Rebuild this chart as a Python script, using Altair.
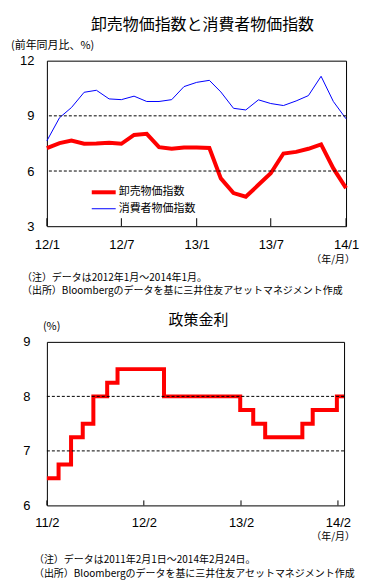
import altair as alt
import pandas as pd

# ---------------- data: top chart (monthly, y/y %) ----------------
months = ["2012-01-01", "2012-02-01", "2012-03-01", "2012-04-01", "2012-05-01",
          "2012-06-01", "2012-07-01", "2012-08-01", "2012-09-01", "2012-10-01",
          "2012-11-01", "2012-12-01", "2013-01-01", "2013-02-01", "2013-03-01",
          "2013-04-01", "2013-05-01", "2013-06-01", "2013-07-01", "2013-08-01",
          "2013-09-01", "2013-10-01", "2013-11-01", "2013-12-01", "2014-01-01"]
wpi = [7.25, 7.52, 7.66, 7.48, 7.50, 7.54, 7.48, 7.96, 8.02, 7.30, 7.21, 7.28, 7.28,
       7.25, 5.60, 4.80, 4.60, 5.25, 5.88, 6.95, 7.04, 7.21, 7.45, 6.14, 5.07]
cpi = [7.64, 8.90, 9.45, 10.28, 10.39, 9.92, 9.88, 10.07, 9.78, 9.78, 9.88, 10.59, 10.82,
       10.93, 10.30, 9.41, 9.32, 9.87, 9.67, 9.56, 9.81, 10.10, 11.15, 9.78, 8.84]
series_names = ["卸売物価指数", "消費者物価指数"]
series_colors = ["#FF0000", "#0000FF"]
top_xticks = ["2012-01-01", "2012-07-01", "2013-01-01", "2013-07-01", "2014-01-01"]
top_yticks = [3, 6, 9, 12]
top_grid = [6, 9]

# ---------------- data: bottom chart (policy rate) ----------------
rate_dates = ["2011-02-01", "2011-03-17", "2011-05-03", "2011-06-16", "2011-07-26",
              "2011-09-16", "2011-10-25", "2012-04-17", "2013-01-29", "2013-03-19",
              "2013-05-03", "2013-09-20", "2013-10-29", "2014-01-28", "2014-02-24"]
rates = [6.50, 6.75, 7.25, 7.50, 8.00, 8.25, 8.50, 8.00, 7.75, 7.50, 7.25, 7.50, 7.75, 8.00, 8.00]
bot_xticks = ["2011-02-01", "2012-02-01", "2013-02-01", "2014-02-01"]
bot_yticks = [6, 7, 8, 9]
bot_grid = [7, 8]

FONT_JP = "Noto Sans CJK JP"
FONT_NUM = "Liberation Sans"

W1, H1 = 300, 166
W2, H2 = 298, 164


def dt(s):
    y, m, d = (int(p) for p in s.split("-"))
    return alt.DateTime(year=y, month=m, date=d, utc=True)


def txt(text, x, y, size, align="left", baseline="middle", line_height=None):
    kw = {}
    if line_height is not None:
        kw = dict(lineBreak="\n", lineHeight=line_height)
    return alt.Chart(pd.DataFrame({"t": [text]})).mark_text(
        align=align, baseline=baseline, font=FONT_JP, fontSize=size, color="black", **kw
    ).encode(text="t:N", x=alt.value(x), y=alt.value(y))


def x_axis(ticks, pad):
    return alt.Axis(values=[dt(s) for s in ticks],
                    labelExpr="utcFormat(datum.value, '%y/%-m')",
                    title=None, ticks=False, domain=False, grid=False, labelFlush=False,
                    labelOverlap=False, labelFont=FONT_NUM, labelFontSize=13,
                    labelColor="black", labelPadding=pad)


def y_axis(ticks, pad):
    return alt.Axis(values=ticks, title=None, ticks=False, domain=False, grid=False,
                    labelFont=FONT_NUM, labelFontSize=13, labelColor="black",
                    labelPadding=pad)


# ---------------- top chart ----------------
df_top = pd.DataFrame({
    "date": months * 2,
    "value": wpi + cpi,
    "series": [series_names[0]] * len(wpi) + [series_names[1]] * len(cpi),
})
xs_top = alt.Scale(type="utc", domain=[dt(months[0]), dt(months[-1])])
ys_top = alt.Scale(domain=[3, 12], nice=False, zero=False)
xa_top = x_axis(top_xticks, 12)
ya_top = y_axis(top_yticks, 13)

leg = dict(title=None, orient="none", legendX=49, legendY=124,
           symbolType="M-2,0H2", symbolSize=144,
           labelFont=FONT_JP, labelFontSize=11, labelColor="black",
           labelOffset=7, rowPadding=2, padding=0)

top_lines = alt.Chart(df_top).mark_line().encode(
    x=alt.X("date:T", scale=xs_top, axis=xa_top),
    y=alt.Y("value:Q", scale=ys_top, axis=ya_top),
    color=alt.Color("series:N", scale=alt.Scale(domain=series_names, range=series_colors),
                    legend=alt.Legend(**leg)),
    strokeWidth=alt.StrokeWidth("series:N", scale=alt.Scale(domain=series_names, range=[4, 1]),
                                legend=alt.Legend(**leg)),
)

top_grid_layer = alt.Chart(pd.DataFrame({"value": top_grid})).mark_rule(
    color="black", strokeWidth=1, strokeDash=[3, 2]
).encode(y=alt.Y("value:Q", scale=ys_top, axis=ya_top))

top_tick_layer = alt.Chart(pd.DataFrame({"date": top_xticks})).mark_rule(
    color="black", strokeWidth=1
).encode(x=alt.X("date:T", scale=xs_top, axis=xa_top), y=alt.value(H1 - 8), y2=alt.value(H1))

top = alt.layer(
    top_lines, top_grid_layer, top_tick_layer,
    txt("卸売物価指数と消費者物価指数", 156, -36, 16, align="center"),
    txt("(前年同月比、%)", -36, -15, 11),
    txt("（年/月）", 309, 200, 10, align="right"),
    txt("（注）データは2012年1月～2014年1月。\n（出所）Bloombergのデータを基に三井住友アセットマネジメント作成",
        -25, 213, 10, baseline="top", line_height=13.5),
).properties(width=W1, height=H1)

# ---------------- bottom chart ----------------
df_bot = pd.DataFrame({"date": rate_dates, "rate": rates})
xs_bot = alt.Scale(type="utc", domain=[dt(rate_dates[0]), dt(rate_dates[-1])])
ys_bot = alt.Scale(domain=[6, 9], nice=False, zero=False)
xa_bot = x_axis(bot_xticks, 11)
ya_bot = y_axis(bot_yticks, 17)

bot_line = alt.Chart(df_bot).mark_line(
    interpolate="step-after", color="#FF0000", strokeWidth=4
).encode(
    x=alt.X("date:T", scale=xs_bot, axis=xa_bot),
    y=alt.Y("rate:Q", scale=ys_bot, axis=ya_bot),
)

bot_grid_layer = alt.Chart(pd.DataFrame({"rate": bot_grid})).mark_rule(
    color="black", strokeWidth=1, strokeDash=[3, 2]
).encode(y=alt.Y("rate:Q", scale=ys_bot, axis=ya_bot))

bot_tick_layer = alt.Chart(pd.DataFrame({"date": bot_xticks})).mark_rule(
    color="black", strokeWidth=1
).encode(x=alt.X("date:T", scale=xs_bot, axis=xa_bot), y=alt.value(H2 - 5), y2=alt.value(H2))

bottom = alt.layer(
    bot_line, bot_grid_layer, bot_tick_layer,
    txt("政策金利", 152, -22, 15, align="center"),
    txt("(%)", -4, -15, 11),
    txt("（年/月）", 309, 196, 10, align="right"),
    txt("（注）データは2011年2月1日～2014年2月24日。\n（出所）Bloombergのデータを基に三井住友アセットマネジメント作成",
        -13, 214, 10, baseline="top", line_height=13.5),
).properties(width=W2, height=H2)

chart = alt.vconcat(top, bottom, spacing=116, bounds="flush").properties(
    padding={"left": 2, "top": 7, "right": 2, "bottom": 2},
    background="white",
).configure_view(stroke="black", strokeWidth=1)

chart.save("out.html", embed_options={"renderer": "svg", "actions": False})
